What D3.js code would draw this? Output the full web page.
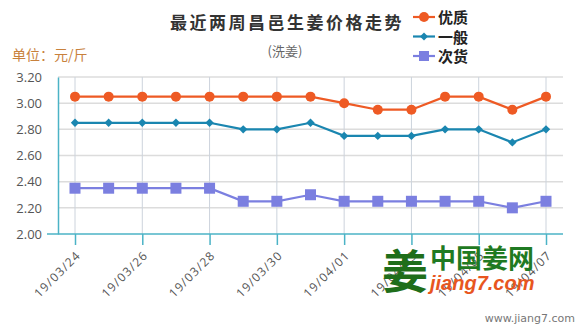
<!DOCTYPE html>
<html><head><meta charset="utf-8">
<script src="https://cdn.jsdelivr.net/npm/d3@7"></script>
<style>body{margin:0;background:#fff;}svg{display:block;font-family:"Noto Sans CJK SC","Open Sans",sans-serif;}</style>
</head><body>
<script>
const dates = ["19/03/24","19/03/25","19/03/26","19/03/27","19/03/28","19/03/29","19/03/30","19/03/31","19/04/01","19/04/02","19/04/03","19/04/04","19/04/05","19/04/06","19/04/07"];
const youzhi = [3.05,3.05,3.05,3.05,3.05,3.05,3.05,3.05,3.00,2.95,2.95,3.05,3.05,2.95,3.05];
const yiban  = [2.85,2.85,2.85,2.85,2.85,2.80,2.80,2.85,2.75,2.75,2.75,2.80,2.80,2.70,2.80];
const cihuo  = [2.35,2.35,2.35,2.35,2.35,2.25,2.25,2.30,2.25,2.25,2.25,2.25,2.25,2.20,2.25];
const yTicks = [2.00,2.20,2.40,2.60,2.80,3.00,3.20];
const seriesNames = ["优质","一般","次货"];

const W=580,H=330;
const svg=d3.select("body").append("svg").attr("width",W).attr("height",H);
const x=d3.scalePoint().domain(dates).range([75,546]);
const y=d3.scaleLinear().domain([2.0,3.2]).range([234,77]);
const axisCol="#4bb3c6", gridCol="#dcdcdc";

// horizontal grid
svg.append("g").selectAll("line").data(yTicks.slice(1)).join("line")
  .attr("x1",58).attr("x2",563).attr("y1",d=>y(d)).attr("y2",d=>y(d))
  .attr("stroke",gridCol).attr("stroke-width",1.5);
// vertical grid
const labDates=dates.filter((d,i)=>i%2===0);
svg.append("g").selectAll("line").data(labDates).join("line")
  .attr("x1",d=>x(d)).attr("x2",d=>x(d)).attr("y1",77).attr("y2",234)
  .attr("stroke","#ccd3dc").attr("stroke-width",1);

// y axis
const ya=svg.append("g").attr("transform","translate(58,0)")
  .call(d3.axisLeft(y).tickValues(yTicks).tickFormat(d3.format(".2f")).tickSize(0).tickPadding(16));
ya.select(".domain").attr("stroke",axisCol).attr("stroke-width",1.5);
ya.selectAll("text").attr("fill","#555").attr("font-size",13).attr("font-family","'Open Sans',sans-serif");
// x axis
const xa=svg.append("g").attr("transform","translate(0,234)")
  .call(d3.axisBottom(x).tickValues(labDates).tickSize(11).tickSizeOuter(0));
xa.select(".domain").remove();
svg.append("line").attr("x1",47).attr("x2",563).attr("y1",234).attr("y2",234).attr("stroke",axisCol).attr("stroke-width",1.5);
xa.selectAll(".tick line").attr("stroke",axisCol).attr("stroke-width",1.5);
xa.selectAll("text").attr("fill","#555").attr("font-size",12).attr("letter-spacing","1.2px").attr("font-family","'Open Sans',sans-serif")
  .attr("text-anchor","end").attr("dy","0").attr("transform","translate(6,22) rotate(-45)").attr("y",0).attr("x",0);

// watermark
const wm=svg.append("g");
wm.append("text").attr("x",382).attr("y",288).attr("font-size",46).attr("font-weight","bold").attr("fill","#1f6e1a").text("姜");
wm.append("text").attr("x",430).attr("y",268).attr("font-size",26).attr("font-weight","bold").attr("fill","#1f7a22").text("中国姜网");
wm.append("text").attr("x",430).attr("y",290).attr("font-size",20).attr("font-weight","bold").attr("font-style","italic").attr("fill","#e8561e").attr("font-family","Arial,'Liberation Sans',sans-serif").text("jiang7.com");
svg.append("text").attr("x",575).attr("y",322).attr("text-anchor","end").attr("font-size",11).attr("fill","#777").attr("font-family","'DejaVu Sans',sans-serif").text("www.jiang7.com");

const cols=["#ee5a24","#1a86b0","#7b7fe0"];
const data=[youzhi,yiban,cihuo];
const line=d3.line().x((d,i)=>x(dates[i])).y(d=>y(d));
data.forEach((s,k)=>{
  svg.append("path").datum(s).attr("d",line).attr("fill","none").attr("stroke",cols[k]).attr("stroke-width",2.2);
  const g=svg.append("g");
  s.forEach((v,i)=>{
    const cx=x(dates[i]),cy=y(v);
    if(k===0) g.append("circle").attr("cx",cx).attr("cy",cy).attr("r",5).attr("fill",cols[k]);
    else if(k===1) g.append("path").attr("d",d3.symbol(d3.symbolDiamond2,45)()).attr("transform",`translate(${cx},${cy})`).attr("fill",cols[k]);
    else g.append("rect").attr("x",cx-5.5).attr("y",cy-5.5).attr("width",11).attr("height",11).attr("fill",cols[k]);
  });
});

// titles
svg.append("text").attr("x",287).attr("y",29).attr("text-anchor","middle").attr("font-size",17).attr("font-weight","bold").attr("letter-spacing","2.5px").attr("fill","#333").text("最近两周昌邑生姜价格走势");
svg.append("text").attr("x",285).attr("y",56).attr("text-anchor","middle").attr("font-size",13).attr("fill","#666").text("(洗姜)");
svg.append("text").attr("x",12).attr("y",60).attr("font-size",14).attr("fill","#c8813c").text("单位：元/斤");

// legend
const lg=svg.append("g");
seriesNames.forEach((n,k)=>{
  const cy=17+k*19.5;
  lg.append("line").attr("x1",413).attr("x2",435).attr("y1",cy).attr("y2",cy).attr("stroke",cols[k]).attr("stroke-width",2.2);
  if(k===0) lg.append("circle").attr("cx",424).attr("cy",cy).attr("r",5).attr("fill",cols[k]);
  else if(k===1) lg.append("path").attr("d",d3.symbol(d3.symbolDiamond2,40)()).attr("transform",`translate(424,${cy})`).attr("fill",cols[k]);
  else lg.append("rect").attr("x",419).attr("y",cy-5).attr("width",10).attr("height",10).attr("fill",cols[k]);
  lg.append("text").attr("x",438).attr("y",cy+6).attr("font-size",15).attr("font-weight","bold").attr("fill","#222").text(n);
});
</script>
</body></html>
